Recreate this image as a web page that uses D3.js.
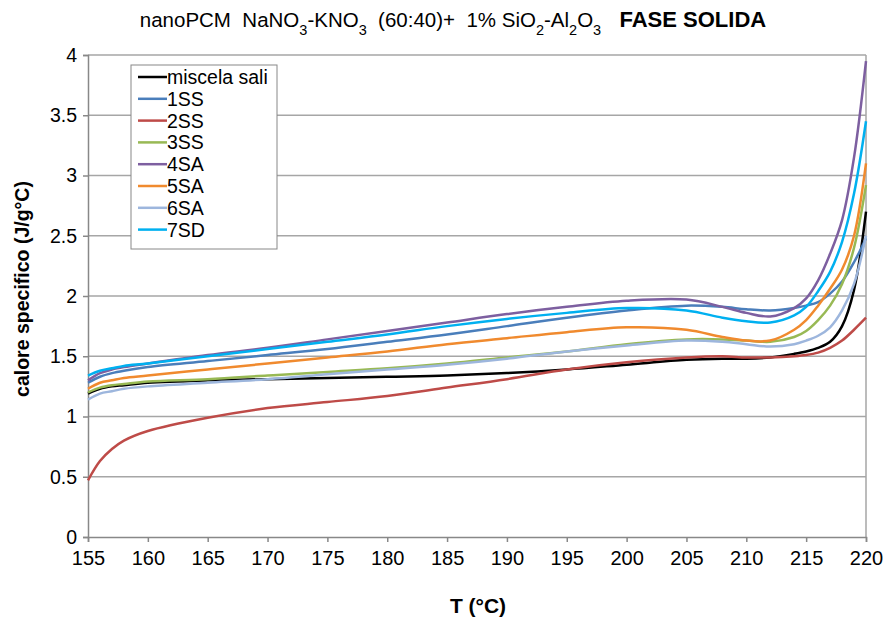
<!DOCTYPE html>
<html>
<head>
<meta charset="utf-8">
<script src="https://cdn.jsdelivr.net/npm/d3@7"></script>
<style>
  body { margin: 0; background: #fff; }
  svg { font-family: "Liberation Sans", Arial, sans-serif; }
</style>
</head>
<body>
<div id="chart"></div>
<script>
// temperature grid (°C) shared by every series
const temps = [155, 156, 157, 158, 160, 165, 170, 175, 180, 185, 190, 195, 200, 205, 208, 210, 212, 214, 215, 216, 217, 218, 219, 220];

const miscelaSali = [1.19, 1.23, 1.25, 1.26, 1.28, 1.30, 1.31, 1.32, 1.33, 1.34, 1.36, 1.39, 1.43, 1.47, 1.48, 1.48, 1.49, 1.52, 1.54, 1.57, 1.62, 1.75, 2.05, 2.70];
const ss1 = [1.28, 1.33, 1.36, 1.38, 1.41, 1.46, 1.51, 1.56, 1.62, 1.68, 1.75, 1.82, 1.88, 1.92, 1.91, 1.89, 1.88, 1.90, 1.92, 1.95, 2.02, 2.12, 2.28, 2.48];
const ss2 = [0.47, 0.63, 0.73, 0.80, 0.88, 0.99, 1.07, 1.12, 1.17, 1.24, 1.31, 1.39, 1.45, 1.49, 1.50, 1.49, 1.49, 1.50, 1.51, 1.53, 1.57, 1.63, 1.72, 1.82];
const ss3 = [1.20, 1.24, 1.26, 1.27, 1.29, 1.31, 1.34, 1.37, 1.40, 1.44, 1.49, 1.54, 1.60, 1.64, 1.64, 1.63, 1.62, 1.66, 1.71, 1.80, 1.92, 2.10, 2.40, 2.92];
const sa4 = [1.30, 1.36, 1.39, 1.41, 1.44, 1.51, 1.57, 1.64, 1.71, 1.78, 1.85, 1.91, 1.96, 1.97, 1.91, 1.86, 1.83, 1.90, 1.98, 2.13, 2.35, 2.63, 3.15, 3.95];
const sa5 = [1.23, 1.28, 1.30, 1.32, 1.34, 1.39, 1.44, 1.49, 1.54, 1.60, 1.65, 1.70, 1.74, 1.72, 1.66, 1.63, 1.63, 1.72, 1.80, 1.92, 2.06, 2.22, 2.50, 3.10];
const sa6 = [1.14, 1.19, 1.21, 1.23, 1.25, 1.28, 1.31, 1.35, 1.39, 1.43, 1.48, 1.54, 1.59, 1.63, 1.62, 1.60, 1.58, 1.60, 1.63, 1.67, 1.74, 1.88, 2.10, 2.50];
const sd7 = [1.34, 1.38, 1.40, 1.42, 1.44, 1.50, 1.56, 1.62, 1.68, 1.75, 1.81, 1.86, 1.90, 1.88, 1.82, 1.79, 1.78, 1.84, 1.91, 2.04, 2.20, 2.45, 2.85, 3.45];

const seriesNames = ["miscela sali", "1SS", "2SS", "3SS", "4SA", "5SA", "6SA", "7SD"];
const seriesValues = [miscelaSali, ss1, ss2, ss3, sa4, sa5, sa6, sd7];
const seriesColors = ["#000000", "#4A7EBB", "#BE4B48", "#98B954", "#7D5FA0", "#F08A2E", "#9DB6DD", "#00B0F0"];

const xTicks = d3.range(155, 221, 5);
const yTicks = [0, 0.5, 1, 1.5, 2, 2.5, 3, 3.5, 4];

const width = 888, height = 619;
const margin = { top: 55, right: 22, bottom: 82, left: 88 };
const w = width - margin.left - margin.right;
const h = height - margin.top - margin.bottom;

const svg = d3.select("#chart").append("svg")
  .attr("width", width).attr("height", height);

// title with subscripts
const title = svg.append("text").attr("x", 453).attr("y", 27)
  .attr("text-anchor", "middle").style("font-size", "20.5px").attr("fill", "#000");
const parts = [
  ["nanoPCM\u00a0 NaNO", 0], ["3", 1], ["-KNO", 0], ["3", 1], ["\u00a0 (60:40)+\u00a0 1% SiO", 0], ["2", 1],
  ["-Al", 0], ["2", 1], ["O", 0], ["3", 1]
];
parts.forEach(([t, sub]) => {
  const ts = title.append("tspan").text(t);
  if (sub) ts.attr("baseline-shift", "sub").style("font-size", "14.5px");
});
title.append("tspan").text("\u00a0\u00a0\u00a0FASE SOLIDA")
  .style("font-weight", "bold").style("font-size", "22px");

const g = svg.append("g").attr("transform", `translate(${margin.left},${margin.top})`);

const x = d3.scaleLinear().domain([155, 220]).range([0, w]);
const y = d3.scaleLinear().domain([0, 4]).range([h, 0]);

// horizontal gridlines
g.append("g").selectAll("line").data(yTicks.slice(1)).join("line")
  .attr("x1", 0).attr("x2", w)
  .attr("y1", d => y(d)).attr("y2", d => y(d))
  .attr("stroke", "#A6A6A6").attr("stroke-width", 1.5);

// right frame edge
g.append("line").attr("x1", w).attr("x2", w).attr("y1", 0).attr("y2", h)
  .attr("stroke", "#A6A6A6").attr("stroke-width", 1.5);

const yAxis = g.append("g")
  .call(d3.axisLeft(y).tickValues(yTicks).tickSize(5).tickPadding(6).tickFormat(d3.format("")));
const xAxis = g.append("g").attr("transform", `translate(0,${h})`)
  .call(d3.axisBottom(x).tickValues(xTicks).tickSize(5).tickPadding(9));

[yAxis, xAxis].forEach(a => {
  a.select(".domain").attr("stroke", "#888").attr("stroke-width", 1.5);
  a.selectAll(".tick line").attr("stroke", "#888").attr("stroke-width", 1.5);
  a.selectAll("text").attr("fill", "#000").style("font-family", "Liberation Sans, Arial, sans-serif");
});
yAxis.selectAll("text").style("font-size", "19.5px");
xAxis.selectAll("text").style("font-size", "20px");

// series
const line = d3.line()
  .x((d, i) => x(temps[i]))
  .y(d => y(d))
  .curve(d3.curveCatmullRom.alpha(0.5));

g.append("g").selectAll("path").data(seriesValues).join("path")
  .attr("d", d => line(d))
  .attr("fill", "none")
  .attr("stroke", (d, i) => seriesColors[i])
  .attr("stroke-width", 2.5);

// axis titles
svg.append("text").attr("x", 478).attr("y", 613).attr("text-anchor", "middle")
  .style("font-size", "21px").style("font-weight", "bold").text("T (°C)");
svg.append("text").attr("transform", "translate(29,289) rotate(-90)").attr("text-anchor", "middle")
  .style("font-size", "19.5px").style("font-weight", "bold").text("calore specifico (J/g°C)");

// legend
const legend = svg.append("g").attr("transform", "translate(131,65)");
legend.append("rect").attr("width", 146).attr("height", 184)
  .attr("fill", "#fff").attr("stroke", "#888").attr("stroke-width", 1);
const items = legend.selectAll("g").data(seriesNames).join("g")
  .attr("transform", (d, i) => `translate(0,${12 + i * 21.8})`);
items.append("line").attr("x1", 7).attr("x2", 36)
  .attr("stroke", (d, i) => seriesColors[i]).attr("stroke-width", 2.5);
items.append("text").attr("x", 36).attr("y", 7).style("font-size", "19.5px").text(d => d);
</script>
</body>
</html>
